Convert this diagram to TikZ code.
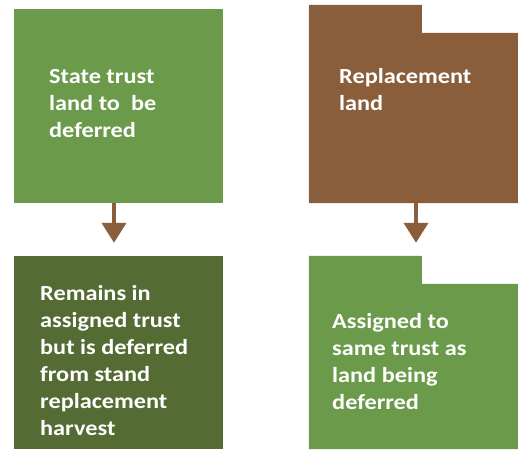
\documentclass[tikz,border=0pt]{standalone}
\usepackage{fontspec}
\setmainfont{Carlito}[FakeStretch=1.13]
\usetikzlibrary{arrows.meta}
\definecolor{leafgreen}{HTML}{6A9A4A}
\definecolor{mossgreen}{HTML}{546B33}
\definecolor{barkbrown}{HTML}{8B5E3B}
\begin{document}
\begin{tikzpicture}[x=1pt,y=1pt]
\def\boxwidth{209pt}; %width of every box
\def\notchx{113}; %where the folder tab ends
\def\notchdepth{28}; %depth of the folder tab
\def\arrowgap{13pt}; %gap between arrow tip and lower box

\tikzstyle{plainbox} = [rectangle, draw=none, inner sep=0mm, minimum width=\boxwidth]
\tikzstyle{boxtext} = [anchor=base west, inner sep=0mm, align=left, text=white, font=\fontsize{21.5}{27}\selectfont\bfseries]
\tikzstyle{flowarrow} = [draw=barkbrown, line width=4pt, -{Triangle[length=20pt,width=24pt]}, shorten >=\arrowgap]

\useasboundingbox (0,0) rectangle (518,450);

% upper row
\node[plainbox, fill=leafgreen, minimum height=194pt] (state) at (118.5,344) {};
\node[plainbox, minimum height=198pt] (repl) at (413.5,346) {};
\fill[barkbrown] (repl.south west) -- (repl.north west) -- ++(\notchx,0) -- ++(0,-\notchdepth) -| (repl.south east) -- cycle;

% lower row
\node[plainbox, fill=mossgreen, minimum height=193pt] (remains) at (118.5,97.5) {};
\node[plainbox, minimum height=193pt] (assign) at (413.5,97.5) {};
\fill[leafgreen] (assign.south west) -- (assign.north west) -- ++(\notchx,0) -- ++(0,-\notchdepth) -| (assign.south east) -- cycle;

% texts (anchored at the baseline of the last line)
\node[boxtext] (statetext) at (49,312) {State trust\\land to \ be\\deferred};
\node[boxtext] (repltext) at (339,339) {Replacement\\land};
\node[boxtext] (remaintext) at (40,15) {Remains in\\assigned trust\\but is deferred\\from stand\\replacement\\harvest};
\node[boxtext] (assigntext) at (332,41) {Assigned to\\same trust as\\land being\\deferred};

% arrows
\draw[flowarrow] ([xshift=-4.5pt]state.south) -- ([xshift=-4.5pt]remains.north);
\draw[flowarrow] ([xshift=2.5pt]repl.south) -- ([xshift=2.5pt]assign.north);

\end{tikzpicture}
\end{document}
